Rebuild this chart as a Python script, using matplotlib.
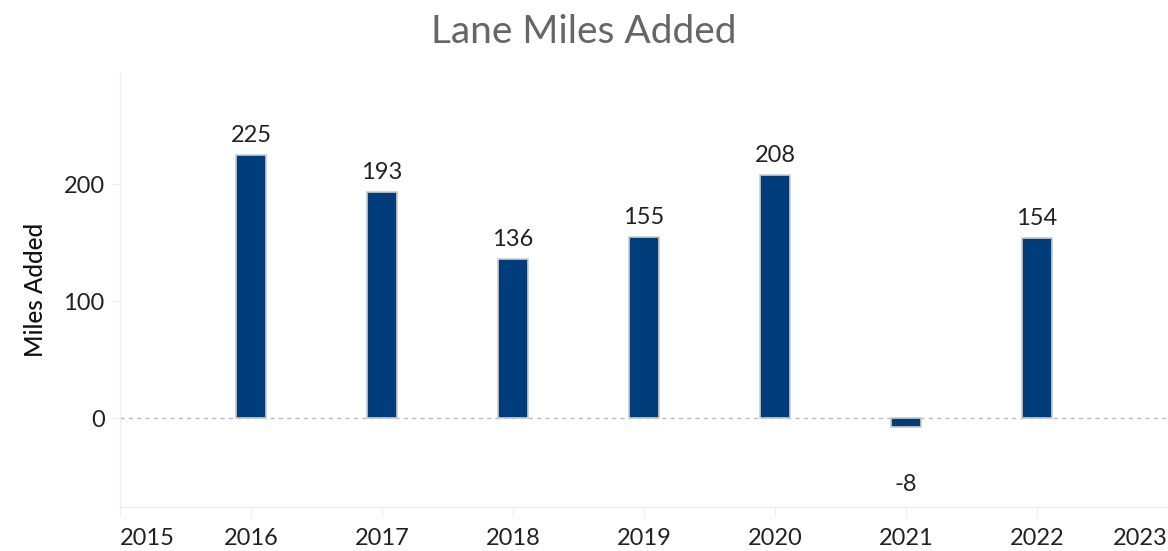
import matplotlib
matplotlib.use("Agg")
import matplotlib.pyplot as plt

years = [2016, 2017, 2018, 2019, 2020, 2021, 2022]
miles_added = [225, 193, 136, 155, 208, -8, 154]
tick_years = [2015, 2016, 2017, 2018, 2019, 2020, 2021, 2022, 2023]
y_ticks = [0, 100, 200]

plt.rcParams['font.family'] = ['Lato', 'DejaVu Sans']

fig = plt.figure(figsize=(11.68, 5.51), dpi=100)
ax = fig.add_axes([120/1168, 1-507/551, 1-120/1168, (507-72)/551])

ax.bar(years, miles_added, width=0.23, color='#003d7a', edgecolor='#cccccc', linewidth=1.2, zorder=3)

for x, v in zip(years, miles_added):
    if v >= 0:
        ax.text(x, v + 8, f"{v}", ha='center', va='bottom', fontsize=17, color='#222222')
    else:
        ax.text(x, v - 40, f"{v}", ha='center', va='top', fontsize=17, color='#222222')

ax.axhline(0, color='#bbbbbb', linestyle=(0, (3, 3)), linewidth=1, zorder=2)

ax.set_xlim(2015, 2023)
ax.set_ylim(-76, 296)
ax.set_xticks(tick_years)
ax.set_xticklabels([str(t) for t in tick_years], fontsize=17, color='#222222')
labels = ax.get_xticklabels()
labels[0].set_ha('left')
labels[-1].set_ha('right')
ax.set_yticks(y_ticks)
ax.set_yticklabels([str(t) for t in y_ticks], fontsize=17, color='#222222')

for s in ['top', 'right']:
    ax.spines[s].set_visible(False)
for s in ['left', 'bottom']:
    ax.spines[s].set_color('#eeeeee')
    ax.spines[s].set_linewidth(1)
ax.tick_params(axis='x', length=7, color='#eeeeee', pad=8)
ax.tick_params(axis='y', length=7, color='#eeeeee', pad=4)

ax.set_ylabel("Miles Added", fontsize=17.5, color='#111111', fontweight='medium', labelpad=12)

fig.text(0.5, 1-32/551, "Lane Miles Added", ha='center', va='center', fontsize=28, color='#666666')

fig.savefig("out.png", dpi=100)
